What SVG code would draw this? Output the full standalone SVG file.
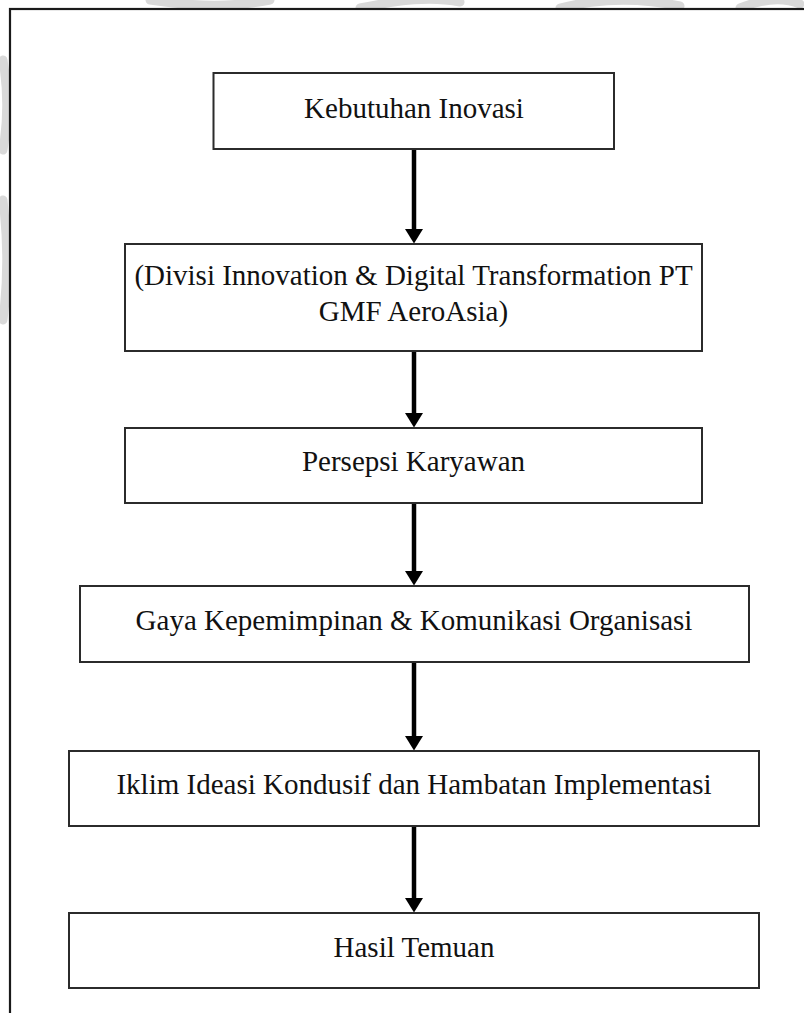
<svg xmlns="http://www.w3.org/2000/svg" width="804" height="1013" viewBox="0 0 804 1013">
<style>
.box{fill:#fff;stroke:#2b2b2b;stroke-width:2}
.lbl{font-family:"Liberation Serif","Times New Roman",serif;font-size:29px;fill:#111;text-anchor:middle}
.con{stroke:#000;stroke-width:4.5;fill:none}
.head{fill:#000}
.wm{fill:none;stroke:#d9d9d9;stroke-width:9;stroke-linecap:round}
</style>
<rect width="804" height="1013" fill="#fff"/>
<g id="watermark">
<path class="wm" d="M150,0 C190,6 230,8 270,0"/>
<path class="wm" d="M360,8 C400,0 430,-4 460,2"/>
<path class="wm" d="M560,8 C600,-2 640,-2 680,6"/>
<path class="wm" d="M740,8 C760,0 780,-4 800,4"/>
<path class="wm" d="M3,60 C8,90 8,120 3,150"/>
<path class="wm" d="M3,200 C8,240 8,280 3,320"/>
</g>
<rect id="frame" x="10" y="9" width="830" height="1040" fill="#fff" stroke="#1a1a1a" stroke-width="2.2"/>
<g id="connectors">
<line class="con" x1="414" y1="149" x2="414" y2="231"/>
<path class="head" d="M405,229 L423,229 L414,243.5 Z"/>
<line class="con" x1="414" y1="351" x2="414" y2="415"/>
<path class="head" d="M405,413 L423,413 L414,427.5 Z"/>
<line class="con" x1="414" y1="503" x2="414" y2="573"/>
<path class="head" d="M405,571 L423,571 L414,585.5 Z"/>
<line class="con" x1="414" y1="662" x2="414" y2="738"/>
<path class="head" d="M405,736 L423,736 L414,750.5 Z"/>
<line class="con" x1="414" y1="826" x2="414" y2="900"/>
<path class="head" d="M405,898 L423,898 L414,912.5 Z"/>
</g>
<g id="n1"><rect class="box" x="213.5" y="73" width="400.5" height="76"/><text class="lbl" x="414" y="118">Kebutuhan Inovasi</text></g>
<g id="n2"><rect class="box" x="125" y="244" width="577" height="107"/><text class="lbl" x="413.5" y="285">(Divisi Innovation &amp; Digital Transformation PT</text><text class="lbl" x="413.5" y="321">GMF AeroAsia)</text></g>
<g id="n3"><rect class="box" x="125" y="428" width="577" height="75"/><text class="lbl" x="413.5" y="471">Persepsi Karyawan</text></g>
<g id="n4"><rect class="box" x="80" y="586" width="669" height="76"/><text class="lbl" x="414" y="630">Gaya Kepemimpinan &amp; Komunikasi Organisasi</text></g>
<g id="n5"><rect class="box" x="69" y="751" width="690" height="75"/><text class="lbl" x="414" y="794">Iklim Ideasi Kondusif dan Hambatan Implementasi</text></g>
<g id="n6"><rect class="box" x="69" y="913" width="690" height="75"/><text class="lbl" x="414" y="957">Hasil Temuan</text></g>
</svg>
